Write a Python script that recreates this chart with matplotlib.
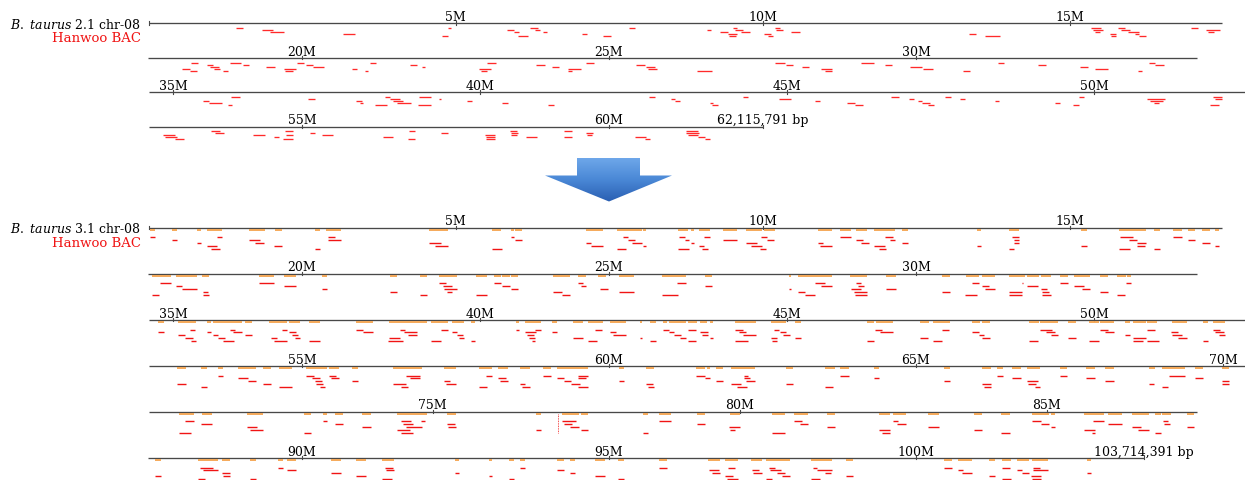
import numpy as np
import matplotlib.pyplot as plt
from matplotlib.collections import LineCollection
from matplotlib.patches import Polygon
from matplotlib.colors import LinearSegmentedColormap

plt.rcParams['font.family'] = 'DejaVu Serif'
plt.rcParams['mathtext.fontset'] = 'dejavuserif'

# ---- data (positions in Mb) ----
old_label = 'B. taurus 2.1 chr-08'
new_label = 'B. taurus 3.1 chr-08'
old_size = '62,115,791 bp'
new_size = '103,714,391 bp'

# row start / end of each drawn line (Mb)
old_starts = [0, 17.5, 34.6, 52.5]
old_ends = [17.48, 34.58, 52.46, 62.5]
new_starts = [0, 17.5, 34.6, 52.5, 70.37, 87.5]
new_ends = [17.48, 34.58, 52.46, 70.36, 87.45, 103.71]

# Hanwoo BAC hits on assembly 2.1: (start, end, lane)
old_r1 = [(1.42,1.54,0),(1.85,2.02,1),(1.98,2.21,2),(3.16,3.36,3),(4.87,4.93,0),(4.78,4.87,4),(5.84,5.95,1),
          (5.95,6.04,2),(6.02,6.18,4),(6.21,6.34,0),(6.30,6.38,1),(6.42,6.49,2),(7.06,7.14,3),(7.40,7.53,4),
          (7.83,7.93,0),(9.09,9.16,1),(9.30,9.44,2),(9.44,9.58,3),(9.52,9.58,0),(9.55,9.68,1),(9.65,9.80,2),
          (9.46,9.57,4),(10.03,10.14,3),(10.09,10.17,4),(10.20,10.28,0),(10.22,10.33,1),(10.46,10.61,2),
          (13.36,13.48,3),(13.62,13.86,4),(15.35,15.51,0),(15.38,15.55,1),(15.41,15.49,2),(15.66,15.76,3),
          (15.67,15.75,4),(15.79,15.90,0),(15.84,15.98,1),(15.95,16.14,2),(16.06,16.14,3),(16.14,16.25,4),
          (16.98,17.09,0),(17.22,17.45,1),(17.25,17.36,2)]
old_r2 = [(18.19,18.31,0),(18.04,18.17,3),(18.17,18.29,4),(18.46,18.55,1),(18.50,18.65,2),(18.57,18.66,3),
          (18.72,18.80,4),(18.83,19.00,0),(19.04,19.14,1),(19.42,19.56,2),(19.71,19.90,3),(19.72,19.86,4),
          (19.92,20.03,0),(20.06,20.18,1),(20.18,20.36,2),(20.81,20.89,3),(21.02,21.08,4),(21.11,21.20,0),
          (21.76,21.87,1),(21.95,22.00,2),(23.02,23.16,0),(22.89,23.08,3),(22.91,23.02,4),(23.81,23.95,1),
          (24.07,24.19,2),(24.33,24.55,3),(24.33,24.40,4),(24.62,24.76,0),(25.44,25.59,1),(25.61,25.75,2),
          (25.64,25.78,3),(26.44,26.68,4),(27.70,27.86,0),(27.89,28.00,1),(28.14,28.26,2),(28.46,28.63,3),
          (28.51,28.63,4),(29.11,29.32,0),(29.50,29.61,1),(29.90,30.09,2),(30.12,30.28,3),(30.76,30.88,4),
          (31.34,31.44,0),(31.98,32.11,1),(32.67,32.80,2),(32.92,33.13,3),(33.62,33.68,4),(33.80,33.89,0),
          (33.89,34.04,1)]
old_r3 = [(35.48,35.59,2),(35.59,35.79,3),(35.90,35.96,4),(35.95,36.09,0),(37.19,37.31,1),(37.98,38.07,2),
          (38.04,38.10,3),(38.29,38.49,4),(38.45,38.53,0),(38.54,38.69,1),(38.59,38.75,2),(38.65,38.87,3),
          (39.00,39.20,0),(38.99,39.20,4),(39.33,39.36,1),(39.78,39.87,2),(40.35,40.45,3),(41.10,41.21,4),
          (42.75,42.85,0),(43.11,43.17,1),(43.17,43.26,2),(43.74,43.80,3),(43.77,43.87,4),(44.29,44.37,0),
          (44.87,45.06,1),(45.45,45.54,2),(45.97,46.11,3),(46.10,46.23,4),(46.69,46.83,0),(46.99,47.07,1),
          (47.13,47.19,2),(47.19,47.33,3),(47.29,47.40,4),(47.57,47.67,0),(47.81,47.89,1),(48.39,48.45,2),
          (49.37,49.45,3),(49.65,49.75,4),(49.76,49.84,0),(50.86,51.16,1),(50.91,51.13,2),(50.97,51.05,3),
          (51.94,52.08,0),(51.97,52.08,1),(51.89,52.03,4)]
old_r4 = [(52.74,52.93,2),(52.77,52.96,3),(52.93,53.08,4),(53.51,53.66,0),(53.58,53.73,1),(54.21,54.40,2),
          (54.54,54.63,3),(54.72,54.86,0),(54.69,54.85,4),(54.74,54.86,2),(55.13,55.21,1),(55.32,55.51,2),
          (56.32,56.48,3),(56.75,56.84,0),(56.73,56.84,4),(57.26,57.37,1),(57.98,58.15,2),(57.99,58.15,3),
          (57.99,58.14,4),(58.39,58.50,0),(58.40,58.51,1),(58.41,58.50,2),(58.65,58.82,3),(59.26,59.40,0),
          (59.26,59.39,3),(59.62,59.74,1),(59.64,59.72,2),(60.42,60.60,3),(60.59,60.67,4),(61.25,61.45,0),
          (61.25,61.47,1),(61.28,61.45,2),(61.45,61.56,3),(61.56,61.64,4)]

# Hanwoo BAC hits on assembly 3.1: (start, end, lane)
new_r1 = [(0.03,0.10,0),(0.38,0.46,1),(0.79,0.86,2),(1.12,1.19,0),(0.96,1.12,3),(1.01,1.17,4),(1.64,1.81,1),
          (1.73,1.88,2),(2.04,2.17,3),(2.71,2.80,4),(2.93,3.03,0),(2.93,3.13,1),(4.57,4.77,2),(4.67,4.88,3),
          (5.59,5.75,4),(5.90,5.96,0),(5.97,6.09,1),(7.12,7.21,2),(7.21,7.41,3),(7.73,7.81,0),(7.81,7.92,1),
          (7.87,8.03,2),(8.05,8.10,3),(7.63,7.77,4),(8.64,8.73,0),(8.73,8.80,1),(8.83,8.89,2),(8.97,9.05,3),
          (8.63,8.80,4),(9.02,9.12,4),(9.05,9.14,0),(9.35,9.58,1),(9.73,9.91,2),(9.82,9.99,3),(9.96,10.05,4),
          (9.98,10.07,0),(10.07,10.19,1),(10.90,10.99,2),(10.94,11.13,3),(11.26,11.44,0),(11.52,11.63,1),
          (11.61,11.73,2),(11.82,12.00,3),(11.89,12.01,4),(12.00,12.13,0),(12.08,12.16,1),(12.28,12.37,2),
          (13.50,13.56,3),(14.07,14.17,0),(14.09,14.18,1),(14.10,14.17,2),(14.01,14.09,4),(15.19,15.28,3),
          (15.82,16.04,0),(15.97,16.10,1),(16.10,16.24,2),(16.10,16.23,3),(15.81,15.99,4),(16.37,16.47,4),
          (16.69,16.84,0),(16.93,17.04,1),(17.15,17.29,2),(17.37,17.44,3)]
new_r2 = [(17.69,17.86,0),(17.95,18.04,1),(18.04,18.29,2),(18.38,18.47,3),(17.55,17.67,4),(18.39,18.49,4),
          (19.30,19.54,0),(19.71,19.90,1),(20.32,20.40,2),(21.44,21.54,3),(21.92,22.03,4),(22.23,22.34,0),
          (22.30,22.45,1),(22.32,22.53,2),(22.36,22.45,3),(22.83,23.02,4),(23.13,23.24,0),(23.26,23.39,1),
          (23.41,23.51,2),(24.09,24.23,3),(24.23,24.36,4),(24.50,24.58,0),(24.54,24.62,1),(24.85,24.98,2),
          (25.16,25.40,3),(25.87,26.13,4),(26.11,26.26,0),(26.57,26.67,1),(27.93,27.97,2),(28.08,28.20,3),
          (28.20,28.35,4),(28.35,28.52,0),(28.45,28.63,1),(29.02,29.11,0),(29.05,29.16,1),(28.94,29.11,2),
          (28.99,29.20,3),(29.00,29.20,4),(29.51,29.67,2),(30.42,30.56,3),(30.91,31.03,0),(31.07,31.19,1),
          (31.13,31.28,2),(30.80,30.99,4),(31.51,31.73,3),(31.51,31.72,4),(31.72,31.75,0),(31.80,31.99,1),
          (32.04,32.13,2),(32.05,32.17,3),(32.06,32.20,4),(32.35,32.47,0),(32.58,32.73,1),(32.71,32.84,2),
          (33.00,33.12,3),(33.28,33.41,4),(33.42,33.50,0)]
new_r3 = [(34.76,34.85,1),(35.27,35.36,0),(35.08,35.19,2),(35.19,35.33,3),(35.29,35.38,4),(35.55,35.61,1),
          (35.65,35.74,2),(35.74,35.84,3),(35.81,35.99,4),(35.93,36.01,0),(35.98,36.12,1),(36.17,36.29,2),
          (36.59,36.70,3),(36.64,36.85,4),(36.78,36.86,0),(36.89,37.01,1),(36.93,37.04,2),(36.98,37.06,3),
          (37.22,37.39,4),(37.98,38.10,0),(38.10,38.26,1),(38.52,38.69,3),(38.50,38.75,4),(38.69,38.78,0),
          (38.76,38.97,1),(38.83,38.97,2),(39.37,39.48,0),(39.55,39.63,1),(39.62,39.73,2),(39.66,39.74,3),
          (39.20,39.37,4),(39.85,39.92,4),(40.58,40.63,0),(40.73,40.91,1),(40.76,40.88,2),(40.79,40.89,3),
          (40.84,40.89,4),(40.89,41.00,0),(41.17,41.25,1),(41.52,41.68,3),(41.76,41.90,4),(41.87,41.99,0),
          (42.12,42.22,1),(42.17,42.37,2),(42.60,42.63,3),(42.77,42.86,4),(42.98,43.07,0),(43.08,43.16,1),
          (43.16,43.28,2),(43.26,43.35,3),(43.38,43.51,4),(43.39,43.51,0),(43.58,43.71,1),(43.61,43.72,2),
          (43.74,43.80,3),(44.16,44.29,0),(44.21,44.33,1),(44.29,44.49,2),(44.16,44.37,4),(44.78,44.87,0),
          (44.89,44.98,1),(44.94,45.05,2),(44.74,44.83,3),(44.75,44.83,4),(45.13,45.23,3),(46.43,46.55,0),
          (46.52,46.72,1),(46.30,46.42,4),(47.17,47.30,3),(47.52,47.64,0),(47.38,47.53,4),(48.01,48.13,1),
          (48.12,48.20,2),(48.18,48.31,3),(48.94,49.09,4),(49.12,49.31,0),(49.21,49.37,1),(49.30,49.42,2),
          (49.57,49.70,3),(49.91,50.08,4),(50.10,50.22,0),(50.18,50.32,1),(50.51,50.59,2),(50.63,50.84,3),
          (50.64,50.80,4),(50.86,50.99,0),(50.86,51.06,4),(51.26,51.37,1),(51.27,51.44,2),(51.36,51.51,3),
          (51.77,51.85,4),(51.93,52.05,0),(51.97,52.11,1),(52.04,52.13,2)]
new_r4 = [(52.97,53.11,3),(53.35,53.45,4),(53.64,53.71,0),(53.95,54.12,1),(54.12,54.25,2),(54.36,54.50,3),
          (54.63,54.83,4),(55.06,55.19,0),(55.17,55.30,1),(55.21,55.33,2),(55.23,55.35,3),(55.30,55.37,4),
          (55.44,55.55,0),(55.47,55.61,1),(55.81,55.92,2),(56.49,56.70,3),(56.62,56.73,4),(56.70,56.92,0),
          (56.76,56.92,1),(57.32,57.41,2),(57.34,57.50,3),(57.88,58.01,4),(57.99,58.09,0),(58.20,58.33,1),
          (58.22,58.35,2),(58.55,58.63,3),(58.59,58.71,4),(58.93,59.06,0),(59.15,59.26,1),(59.27,59.38,2),
          (59.38,59.53,3),(59.49,59.65,4),(59.49,59.65,0),(59.50,59.62,1),(60.16,60.25,2),(60.60,60.71,3),
          (60.64,60.74,4),(61.41,61.56,0),(61.57,61.64,1),(61.74,61.85,2),(61.99,62.15,3),(62.08,62.24,4),
          (62.20,62.27,0),(62.20,62.30,1),(62.23,62.37,2),(62.89,62.99,3),(63.51,63.65,4),(63.76,63.91,0),
          (64.31,64.39,1),(65.46,65.56,2),(66.07,66.22,3),(66.10,66.22,4),(66.32,66.42,0),(66.57,66.71,1),
          (66.80,66.98,2),(66.83,66.95,3),(66.94,67.02,4),(67.35,67.46,0),(67.77,67.92,1),(68.08,68.22,2),
          (68.79,68.88,3),(69.00,69.11,4),(69.12,69.38,0),(69.55,69.67,1),(69.98,70.10,2),(69.98,70.10,3)]
new_r5 = [(70.96,71.11,0),(71.22,71.41,1),(70.87,71.07,4),(71.97,72.13,2),(72.03,72.23,3),(72.90,73.01,4),
          (73.21,73.27,0),(73.41,73.53,1),(73.85,73.99,2),(74.49,74.65,0),(74.52,74.68,1),(74.57,74.82,2),
          (74.41,74.63,3),(74.49,74.68,4),(74.81,74.88,0),(75.23,75.36,1),(75.24,75.37,2),(76.68,76.77,3),
          (77.10,77.34,0),(77.13,77.26,1),(77.23,77.38,2),(77.42,77.52,3),(78.43,78.51,4),(78.68,78.88,0),
          (79.31,79.44,1),(79.82,80.00,2),(79.84,79.92,3),(80.53,80.73,4),(80.89,81.01,0),(80.98,81.11,1),
          (81.42,81.55,2),(82.27,82.45,3),(82.31,82.45,4),(82.49,82.58,0),(82.56,82.70,1),(83.07,83.25,2),
          (83.81,83.95,3),(84.26,84.40,4),(84.76,84.91,0),(84.91,85.04,1),(85.07,85.14,2),(85.76,85.94,0),
          (86.00,86.22,1),(85.61,85.78,3),(85.73,85.78,4),(86.38,86.54,2),(86.49,86.66,3),(86.76,86.86,4),
          (86.90,86.98,0),(86.91,87.00,1),(87.28,87.40,2)]
new_r6 = [(87.60,87.71,3),(88.34,88.55,0),(88.39,88.64,1),(88.69,88.83,2),(88.71,88.82,3),(88.31,88.42,4),
          (89.16,89.25,4),(89.61,89.69,0),(89.75,89.91,1),(90.47,90.64,2),(90.88,91.04,3),(91.35,91.49,0),
          (91.37,91.50,1),(91.31,91.46,4),(92.49,92.56,2),(93.05,93.09,3),(93.37,93.46,4),(93.55,93.64,0),
          (94.16,94.26,1),(94.36,94.45,2),(94.77,94.93,3),(95.14,95.25,4),(95.81,95.95,0),(96.63,96.79,1),
          (96.67,96.81,2),(96.89,97.02,3),(96.92,97.10,4),(96.94,97.06,0),(97.33,97.44,1),(97.35,97.49,2),
          (97.60,97.70,0),(97.62,97.80,1),(97.73,97.87,2),(97.55,97.65,4),(97.81,97.95,3),(98.33,98.38,0),
          (98.38,98.63,1),(98.29,98.44,4),(98.52,98.62,2),(98.86,98.97,3),(100.46,100.59,0),(100.69,100.77,1),
          (100.75,100.92,2),(101.19,101.29,3),(101.40,101.53,0),(101.40,101.55,4),(101.64,101.72,1),
          (101.72,101.84,2),(101.90,102.02,0),(101.91,102.15,1),(101.88,102.04,3),(101.89,102.04,4),
          (102.78,102.85,2)]

# orange track on assembly 3.1: (start, end)
new_o1 = [(0.03,0.10),(0.38,0.47),(0.79,0.86),(0.95,1.19),(1.64,1.90),(2.06,2.17),(2.71,2.80),(2.89,3.13),
          (4.57,4.88),(5.60,5.74),(5.91,5.96),(5.97,6.09),(7.12,7.41),(7.63,8.04),(8.06,8.10),(8.63,8.79),
          (8.83,8.89),(8.97,9.14),(9.35,9.58),(9.73,9.99),(10.03,10.20),(10.90,11.13),(11.26,11.44),
          (11.52,11.71),(11.82,12.16),(12.28,12.37),(13.50,13.56),(14.01,14.18),(15.19,15.28),(15.81,16.24),
          (16.37,16.47),(16.69,16.84),(16.93,17.04),(17.15,17.29),(17.37,17.44)]
new_o2 = [(17.55,17.86),(17.95,18.29),(18.37,18.49),(19.30,19.54),(19.71,19.90),(20.32,20.40),(21.44,21.54),
          (21.92,22.03),(22.23,22.52),(22.83,23.02),(23.13,23.24),(23.26,23.39),(23.41,23.51),(24.09,24.36),
          (24.50,24.62),(24.82,24.95),(25.16,25.40),(25.87,26.26),(26.57,26.67),(27.93,27.97),(28.08,28.63),
          (28.93,29.20),(29.51,29.67),(30.42,30.56),(30.81,31.03),(31.07,31.28),(31.51,31.78),(31.80,32.01),
          (32.04,32.20),(32.34,32.47),(32.58,32.84),(33.00,33.12),(33.28,33.42),(33.43,33.50)]
new_o3 = [(34.76,34.85),(35.08,35.38),(35.55,35.61),(35.65,36.12),(36.17,36.29),(36.57,36.86),(36.89,37.06),
          (37.22,37.39),(37.98,38.26),(38.52,39.13),(39.20,39.48),(39.55,39.74),(39.85,39.92),(40.58,40.63),
          (40.73,41.00),(41.17,41.25),(41.52,41.68),(41.76,42.01),(42.12,42.37),(42.60,42.64),(42.77,42.86),
          (42.98,43.04),(43.08,43.36),(43.38,43.53),(43.58,43.69),(43.74,43.80),(44.16,44.49),(44.74,44.98),
          (45.13,45.23),(46.30,46.42),(46.45,46.73),(47.17,47.31),(47.38,47.66),(48.01,48.14),(48.18,48.31),
          (48.94,49.11),(49.12,49.42),(49.57,49.70),(49.91,50.08),(50.10,50.32),(50.51,50.59),(50.63,50.84),
          (50.86,51.02),(51.27,51.51),(51.77,51.85),(51.93,52.13)]
new_o4 = [(52.97,53.11),(53.35,53.45),(53.64,53.71),(53.95,54.25),(54.36,54.50),(54.63,54.83),(55.06,55.40),
          (55.44,55.61),(55.81,55.92),(56.49,56.95),(57.32,57.50),(57.88,58.09),(58.20,58.35),(58.55,58.71),
          (58.93,59.06),(59.15,59.26),(59.27,59.65),(60.16,60.25),(60.60,60.74),(61.41,61.56),(61.59,61.64),
          (61.74,61.85),(61.99,62.37),(62.89,62.99),(63.51,63.68),(63.76,63.91),(64.31,64.39),(65.46,65.56),
          (66.07,66.22),(66.32,66.42),(66.57,66.71),(66.80,67.02),(67.35,67.46),(67.77,67.92),(68.08,68.22),
          (68.79,68.89),(69.00,69.38),(69.55,69.67),(69.99,70.10)]
new_o5 = [(70.87,71.11),(71.24,71.41),(71.97,72.23),(72.90,73.01),(73.21,73.27),(73.41,73.53),(73.85,73.99),
          (74.41,74.90),(75.23,75.37),(76.68,76.77),(77.10,77.38),(77.42,77.52),(78.43,78.51),(78.68,78.88),
          (79.31,79.44),(79.84,80.00),(80.53,80.74),(80.89,81.11),(81.42,81.55),(82.27,82.45),(82.49,82.70),
          (83.07,83.25),(83.81,83.95),(84.26,84.40),(84.76,85.04),(85.07,85.14),(85.61,85.94),(86.00,86.22),
          (86.38,86.66),(86.76,86.86),(86.88,87.03),(87.28,87.40)]
new_o6 = [(87.60,87.71),(88.31,88.64),(88.69,88.83),(89.16,89.25),(89.61,89.69),(89.75,89.91),(90.47,90.64),
          (90.88,91.04),(91.31,91.50),(92.49,92.56),(93.05,93.09),(93.37,93.46),(93.55,93.64),(94.16,94.26),
          (94.36,94.45),(94.77,94.93),(95.14,95.25),(95.81,95.95),(96.62,96.81),(96.89,97.10),(97.32,97.49),
          (97.55,97.95),(98.29,98.63),(98.86,98.97),(100.46,100.59),(100.69,100.92),(101.19,101.29),
          (101.40,101.55),(101.64,101.84),(101.89,102.15),(102.78,102.85)]

# dotted marker seen in row 5 of 3.1
new_marks = [77.04]

old_red = [old_r1, old_r2, old_r3, old_r4]
new_red = [new_r1, new_r2, new_r3, new_r4, new_r5, new_r6]
new_orange = [new_o1, new_o2, new_o3, new_o4, new_o5, new_o6]

# ---- layout (pixels) ----
W, H = 1245, 481
PX_PER_MB = 61.4
LEFT = 148.5
old_line_y = [24.3, 59.0, 93.3, 127.7]
new_line_y = [228.7, 274.7, 321.0, 367.0, 412.7, 459.0]
LINE_C = '#484848'
RED = '#f01414'
OLD_RED = '#ff2a2a'
ORANGE = '#f5a653'

fig = plt.figure(figsize=(W / 100, H / 100), dpi=100)

# overlay in pixel coordinates for labels and arrow
ov = fig.add_axes([0, 0, 1, 1])
ov.axis('off')

cmap = LinearSegmentedColormap.from_list('arr', ['#6fa8ea', '#4a88d6', '#2a5fb2'])
arrow = Polygon([(577, 159), (640, 159), (640, 176.5), (672, 176.5), (609, 202.5),
                 (545, 176.5), (577, 176.5)], closed=True, facecolor='none', edgecolor='none')
ov.add_patch(arrow)
grad = np.linspace(0, 1, 60)[:, None] * np.ones((1, 4))
im = ov.imshow(grad, cmap=cmap, extent=(545, 672, 203, 158), aspect='auto', origin='upper')
im.set_clip_path(arrow)
ov.set_xlim(0, W)
ov.set_ylim(H, 0)

for base, lab in [(old_line_y[0], old_label), (new_line_y[0], new_label)]:
    sp, rest = lab.split(' ', 2)[:2], lab.split(' ', 2)[2]
    ov.text(141, base + 4.3, r'$\mathit{%s\ %s}$ %s' % (sp[0], sp[1], rest),
            ha='right', va='baseline', fontsize=9)
    ov.text(141, base + 18.2, 'Hanwoo BAC', color=RED, ha='right', va='baseline', fontsize=9.5)


def draw_row(line_y, start, end, red, orange, lane0, step, red_lw, red_c,
             first=False, last_label=None, marks=()):
    ax = fig.add_axes([0, 1 - (line_y + 26) / H, 1, 48 / H])
    ax.set_xlim(start - LEFT / PX_PER_MB, start + (W - LEFT) / PX_PER_MB)
    ax.set_ylim(26, -22)
    ax.axis('off')
    ax.patch.set_alpha(0)
    ax.plot([start, end], [0, 0], color=LINE_C, lw=0.95, solid_capstyle='butt')
    ticks = [t for t in range(5, 105, 5) if start < t <= end]
    for t in ticks:
        ax.plot([t, t], [-2.2, 1.2], color=LINE_C, lw=0.8)
        ax.text(t, -3.3, '%dM' % t, ha='center', va='baseline', fontsize=9)
    if first:
        ax.plot([start, start], [-2.2, 1.2], color=LINE_C, lw=0.8)
    if last_label:
        ax.plot([end, end], [-2.2, 1.2], color=LINE_C, lw=0.8)
        ax.text(end, -3.3, last_label, ha='center', va='baseline', fontsize=9)
    if orange:
        segs = [[(s, 2.0), (e, 2.0)] for s, e in orange]
        ax.add_collection(LineCollection(segs, colors=ORANGE, linewidths=1.35, capstyle='butt'))
    segs = [[(s, lane0 + k * step), (e, lane0 + k * step)] for s, e, k in red]
    ax.add_collection(LineCollection(segs, colors=red_c, linewidths=red_lw, capstyle='butt'))
    for m in marks:
        ax.plot([m, m], [2, lane0 + 4 * step], color=RED, lw=0.6, ls=(0, (1, 1)))


for i in range(4):
    draw_row(old_line_y[i], old_starts[i], old_ends[i], old_red[i], None, 4.7, 2.0, 0.95, OLD_RED,
             first=(i == 0), last_label=old_size if i == 3 else None)

for i in range(6):
    draw_row(new_line_y[i], new_starts[i], new_ends[i], new_red[i], new_orange[i], 9.6, 2.85, 1.0, RED,
             first=(i == 0), last_label=new_size if i == 5 else None,
             marks=new_marks if i == 4 else ())

fig.savefig('out.png', dpi=100)
